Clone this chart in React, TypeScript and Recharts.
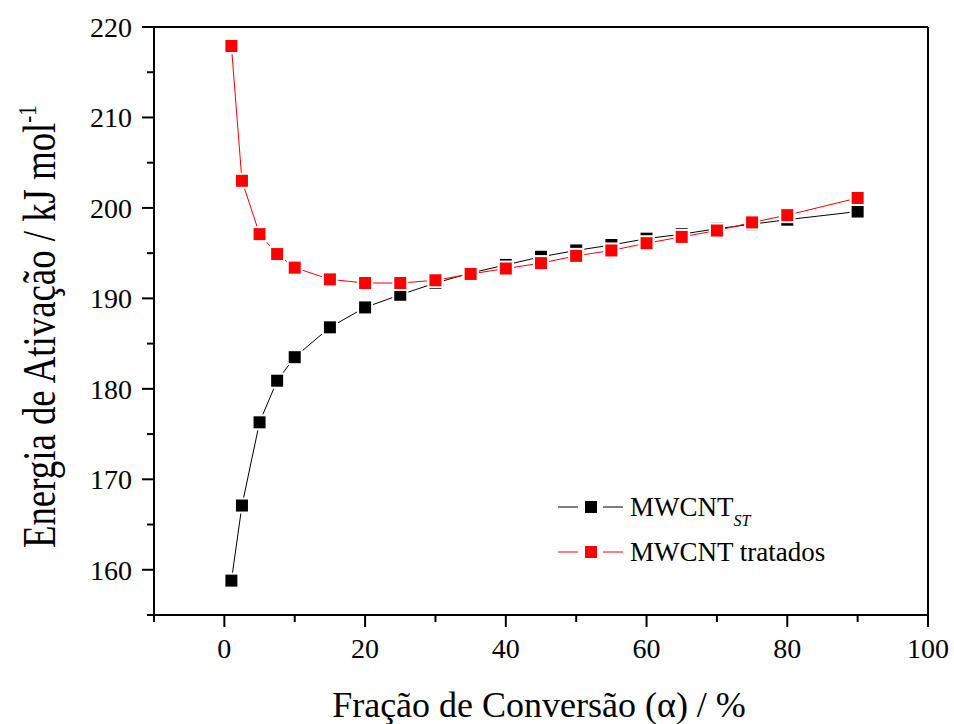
import { Legend, Line, LineChart, ReferenceLine, XAxis, YAxis } from 'recharts'

// conversion fraction (%) and activation energies (kJ/mol)
const alpha = [1, 2.5, 5, 7.5, 10, 15, 20, 25, 30, 35, 40, 45, 50, 55, 60, 65, 70, 75, 80, 90]
const eaST = [
    158.8, 167.1, 176.3, 180.9, 183.5, 186.8, 189.0, 190.4, 191.7, 192.8,
    193.7, 194.6, 195.3, 195.9, 196.6, 197.1, 197.7, 198.2, 198.7, 199.6,
]
const eaTratados = [
    217.9, 203.0, 197.1, 194.9, 193.4, 192.1, 191.7, 191.7, 192.0, 192.7,
    193.3, 193.9, 194.7, 195.3, 196.1, 196.8, 197.5, 198.4, 199.2, 201.1,
]

const xTicks = [-10, 0, 10, 20, 30, 40, 50, 60, 70, 80, 90, 100]
const xLabels = [0, 20, 40, 60, 80, 100]
const yTicks = [155, 160, 165, 170, 175, 180, 185, 190, 195, 200, 205, 210, 215, 220]
const yLabels = [160, 170, 180, 190, 200, 210, 220]

const seriesNames = ['MWCNT', 'MWCNT tratados']
const seriesSubs = ['ST', '']
const seriesColors = ['#000000', '#ff0000']

const stData = alpha.map((a, i) => ({ x: a, y: eaST[i] }))
const trData = alpha.map((a, i) => ({ x: a, y: eaTratados[i] }))

const FONT = '"Liberation Serif", "Times New Roman", serif'

const squareDot = (color: string) => (props: any) => {
    const { cx, cy, index } = props
    if (cx == null || cy == null) return <g key={index} />
    return (
        <g key={index}>
            <rect x={cx - 8} y={cy - 8} width={16} height={16} fill="#fff" />
            <rect x={cx - 6} y={cy - 6} width={12} height={12} fill={color} />
        </g>
    )
}

const XTick = (props: any) => {
    const { x, y, payload } = props
    const major = xLabels.includes(payload.value)
    return (
        <g>
            <line x1={x} y1={y} x2={x} y2={y + (major ? 12 : 7)} stroke="#000" strokeWidth={2} />
            {major && (
                <text x={x} y={y + 43} textAnchor="middle" fontSize={28} fontFamily={FONT} fill="#000">
                    {payload.value}
                </text>
            )}
        </g>
    )
}

const YTick = (props: any) => {
    const { x, y, payload } = props
    const major = yLabels.includes(payload.value)
    return (
        <g>
            <line x1={x - (major ? 12 : 7)} y1={y} x2={x} y2={y} stroke="#000" strokeWidth={2} />
            {major && (
                <text x={x - 22} y={y + 10} textAnchor="end" fontSize={28} fontFamily={FONT} fill="#000">
                    {payload.value}
                </text>
            )}
        </g>
    )
}

const XTitle = () => (
    <text x={539} y={717} textAnchor="middle" fontSize={36} fontFamily={FONT} fill="#000">
        Fração de Conversão (α) / %
    </text>
)

// rotated title, slightly condensed along its length like the original
const YTitle = () => (
    <text
        x={0}
        y={0}
        transform="translate(55, 548) rotate(-90) scale(0.8, 1)"
        textAnchor="start"
        fontSize={46}
        fontFamily={FONT}
        fill="#000"
    >
        Energia de Ativação / kJ mol
        <tspan dy={-19} fontSize={26}>-1</tspan>
    </text>
)

const LegendBox = () => (
    <svg width={300} height={100} style={{ display: 'block' }}>
        {seriesNames.map((name, i) => {
            const cy = 22 + 45 * i
            return (
                <g key={name}>
                    <line x1={3} y1={cy} x2={23} y2={cy} stroke={seriesColors[i]} strokeWidth={1} />
                    <line x1={48} y1={cy} x2={68} y2={cy} stroke={seriesColors[i]} strokeWidth={1} />
                    <rect x={30} y={cy - 6} width={12} height={12} fill={seriesColors[i]} />
                    <text x={75} y={cy + 9} fontSize={27} fontFamily={FONT} fill="#000">
                        {name}
                        {seriesSubs[i] && (
                            <tspan dy={10} fontSize={16} fontStyle="italic">
                                {seriesSubs[i]}
                            </tspan>
                        )}
                    </text>
                </g>
            )
        })}
    </svg>
)

export default function App() {
    return (
        <div style={{ position: 'absolute', left: 0, top: 0, background: '#fff' }}>
            <LineChart
                width={954}
                height={724}
                margin={{ top: 27, right: 26, left: 0, bottom: 0 }}
                style={{ fontFamily: FONT }}
            >
                <XAxis
                    dataKey="x"
                    type="number"
                    domain={[-10, 100]}
                    ticks={xTicks}
                    interval={0}
                    height={109}
                    tickSize={0}
                    tickMargin={0}
                    tickLine={false}
                    tick={<XTick />}
                    axisLine={{ stroke: '#000', strokeWidth: 2 }}
                    label={<XTitle />}
                    allowDataOverflow
                />
                <YAxis
                    type="number"
                    domain={[155, 220]}
                    ticks={yTicks}
                    interval={0}
                    width={154}
                    tickSize={0}
                    tickMargin={0}
                    tickLine={false}
                    tick={<YTick />}
                    axisLine={{ stroke: '#000', strokeWidth: 2 }}
                    label={<YTitle />}
                    allowDataOverflow
                />
                <ReferenceLine y={220} stroke="#000" strokeWidth={2} />
                <ReferenceLine x={100} stroke="#000" strokeWidth={2} />
                <Line
                    data={stData}
                    dataKey="y"
                    name="st"
                    type="linear"
                    stroke={seriesColors[0]}
                    strokeWidth={1}
                    dot={squareDot(seriesColors[0])}
                    activeDot={false}
                    isAnimationActive={false}
                />
                <Line
                    data={trData}
                    dataKey="y"
                    name="tratados"
                    type="linear"
                    stroke={seriesColors[1]}
                    strokeWidth={1}
                    dot={squareDot(seriesColors[1])}
                    activeDot={false}
                    isAnimationActive={false}
                />
                <Legend
                    layout="vertical"
                    align="center"
                    verticalAlign="middle"
                    content={<LegendBox />}
                    wrapperStyle={{ left: 555, top: 485, width: 300, height: 100 }}
                />
            </LineChart>
        </div>
    )
}
